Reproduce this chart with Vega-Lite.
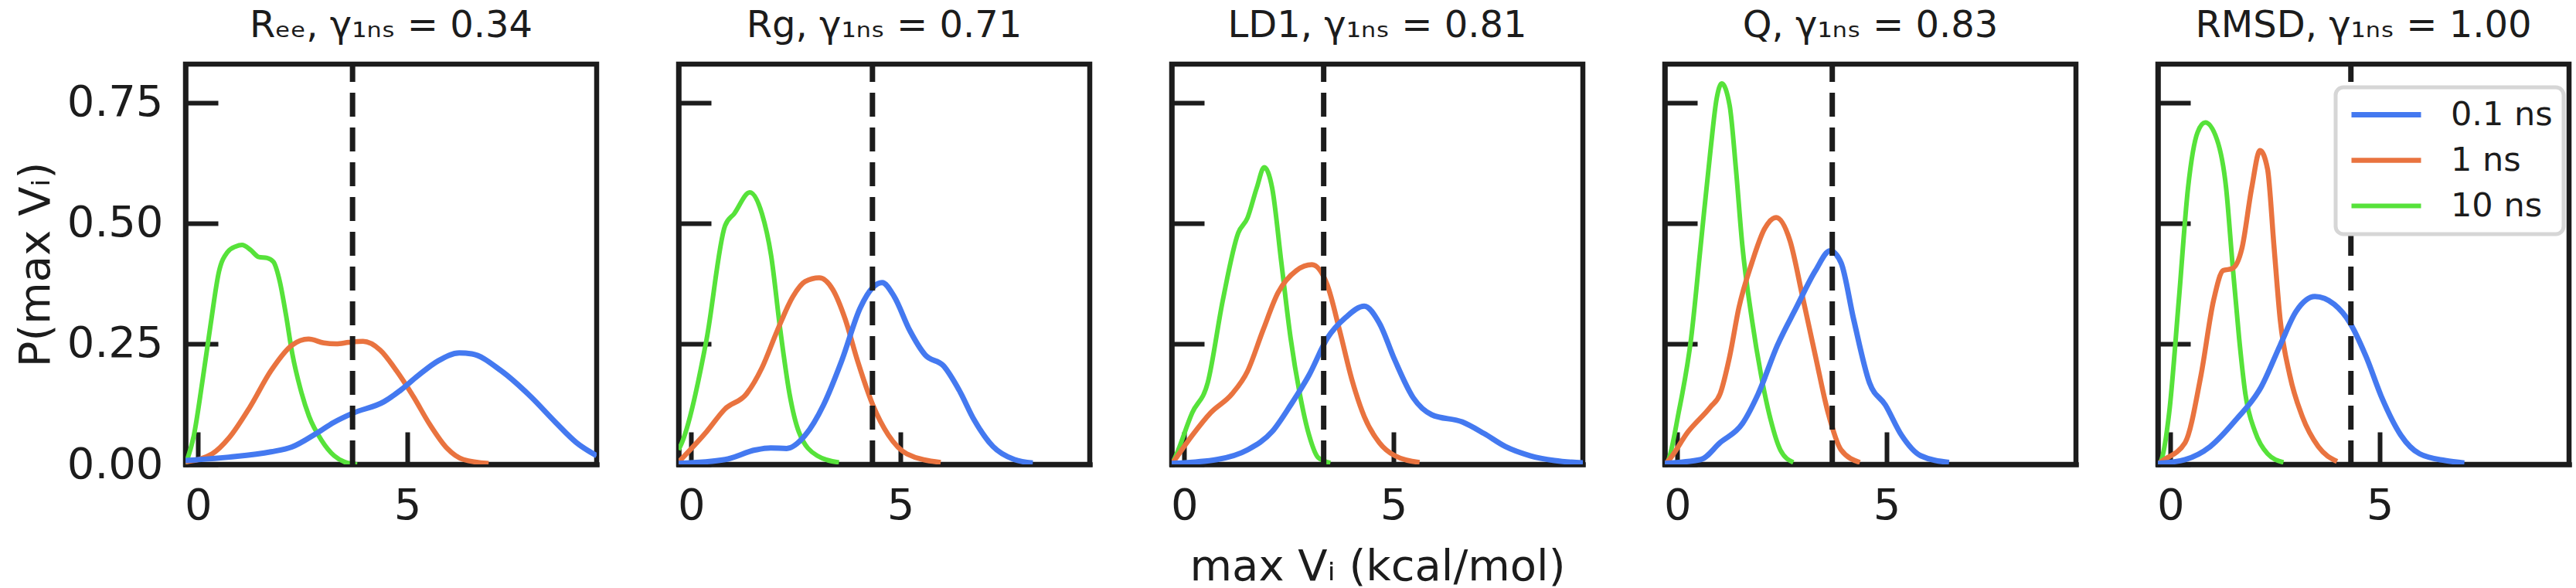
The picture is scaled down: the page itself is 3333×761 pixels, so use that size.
{
  "$schema": "https://vega.github.io/schema/vega-lite/v6.json",
  "background": "white",
  "padding": {"left": 15, "top": 6, "right": 4, "bottom": 4},
  "bounds": "flush",
  "spacing": 106,
  "datasets": {
    "curves": [
      {"panel":"Ree","series":"10 ns","x":-0.3,"y":0.0},{"panel":"Ree","series":"10 ns","x":-0.1,"y":0.06},{"panel":"Ree","series":"10 ns","x":0.1,"y":0.17},{"panel":"Ree","series":"10 ns","x":0.3,"y":0.29},{"panel":"Ree","series":"10 ns","x":0.5,"y":0.40},{"panel":"Ree","series":"10 ns","x":0.7,"y":0.44},{"panel":"Ree","series":"10 ns","x":0.9,"y":0.452},{"panel":"Ree","series":"10 ns","x":1.05,"y":0.455},{"panel":"Ree","series":"10 ns","x":1.25,"y":0.445},{"panel":"Ree","series":"10 ns","x":1.45,"y":0.43},{"panel":"Ree","series":"10 ns","x":1.65,"y":0.428},{"panel":"Ree","series":"10 ns","x":1.8,"y":0.42},{"panel":"Ree","series":"10 ns","x":1.95,"y":0.38},{"panel":"Ree","series":"10 ns","x":2.1,"y":0.31},{"panel":"Ree","series":"10 ns","x":2.25,"y":0.23},{"panel":"Ree","series":"10 ns","x":2.45,"y":0.155},{"panel":"Ree","series":"10 ns","x":2.65,"y":0.1},{"panel":"Ree","series":"10 ns","x":2.95,"y":0.05},{"panel":"Ree","series":"10 ns","x":3.25,"y":0.018},{"panel":"Ree","series":"10 ns","x":3.5,"y":0.005},{"panel":"Ree","series":"10 ns","x":3.8,"y":0.0},
      {"panel":"Ree","series":"1 ns","x":-0.3,"y":0.005},{"panel":"Ree","series":"1 ns","x":0.34,"y":0.022},{"panel":"Ree","series":"1 ns","x":0.74,"y":0.055},{"panel":"Ree","series":"1 ns","x":1.24,"y":0.119},{"panel":"Ree","series":"1 ns","x":1.74,"y":0.194},{"panel":"Ree","series":"1 ns","x":2.24,"y":0.247},{"panel":"Ree","series":"1 ns","x":2.64,"y":0.26},{"panel":"Ree","series":"1 ns","x":3.0,"y":0.252},{"panel":"Ree","series":"1 ns","x":3.3,"y":0.25},{"panel":"Ree","series":"1 ns","x":3.6,"y":0.253},{"panel":"Ree","series":"1 ns","x":3.94,"y":0.255},{"panel":"Ree","series":"1 ns","x":4.35,"y":0.237},{"panel":"Ree","series":"1 ns","x":4.74,"y":0.194},{"panel":"Ree","series":"1 ns","x":5.14,"y":0.141},{"panel":"Ree","series":"1 ns","x":5.54,"y":0.082},{"panel":"Ree","series":"1 ns","x":5.94,"y":0.034},{"panel":"Ree","series":"1 ns","x":6.34,"y":0.01},{"panel":"Ree","series":"1 ns","x":6.94,"y":0.002},
      {"panel":"Ree","series":"0.1 ns","x":-0.3,"y":0.008},{"panel":"Ree","series":"0.1 ns","x":0.74,"y":0.015},{"panel":"Ree","series":"0.1 ns","x":1.74,"y":0.026},{"panel":"Ree","series":"0.1 ns","x":2.24,"y":0.036},{"panel":"Ree","series":"0.1 ns","x":2.84,"y":0.065},{"panel":"Ree","series":"0.1 ns","x":3.24,"y":0.087},{"panel":"Ree","series":"0.1 ns","x":3.69,"y":0.106},{"panel":"Ree","series":"0.1 ns","x":4.44,"y":0.13},{"panel":"Ree","series":"0.1 ns","x":4.84,"y":0.154},{"panel":"Ree","series":"0.1 ns","x":5.24,"y":0.183},{"panel":"Ree","series":"0.1 ns","x":5.74,"y":0.215},{"panel":"Ree","series":"0.1 ns","x":6.24,"y":0.231},{"panel":"Ree","series":"0.1 ns","x":6.54,"y":0.229},{"panel":"Ree","series":"0.1 ns","x":7.24,"y":0.194},{"panel":"Ree","series":"0.1 ns","x":7.94,"y":0.141},{"panel":"Ree","series":"0.1 ns","x":8.54,"y":0.087},{"panel":"Ree","series":"0.1 ns","x":9.04,"y":0.045},{"panel":"Ree","series":"0.1 ns","x":9.52,"y":0.018},

      {"panel":"Rg","series":"10 ns","x":-0.3,"y":0.03},{"panel":"Rg","series":"10 ns","x":-0.22,"y":0.045},{"panel":"Rg","series":"10 ns","x":0.37,"y":0.26},{"panel":"Rg","series":"10 ns","x":0.81,"y":0.495},{"panel":"Rg","series":"10 ns","x":1.03,"y":0.52},{"panel":"Rg","series":"10 ns","x":1.4,"y":0.564},{"panel":"Rg","series":"10 ns","x":1.69,"y":0.52},{"panel":"Rg","series":"10 ns","x":1.91,"y":0.433},{"panel":"Rg","series":"10 ns","x":2.13,"y":0.278},{"panel":"Rg","series":"10 ns","x":2.35,"y":0.146},{"panel":"Rg","series":"10 ns","x":2.57,"y":0.068},{"panel":"Rg","series":"10 ns","x":3.01,"y":0.018},{"panel":"Rg","series":"10 ns","x":3.53,"y":0.004},
      {"panel":"Rg","series":"1 ns","x":-0.3,"y":0.005},{"panel":"Rg","series":"1 ns","x":0.37,"y":0.068},{"panel":"Rg","series":"1 ns","x":0.81,"y":0.115},{"panel":"Rg","series":"1 ns","x":1.32,"y":0.146},{"panel":"Rg","series":"1 ns","x":1.69,"y":0.2},{"panel":"Rg","series":"1 ns","x":2.06,"y":0.278},{"panel":"Rg","series":"1 ns","x":2.43,"y":0.348},{"panel":"Rg","series":"1 ns","x":2.72,"y":0.379},{"panel":"Rg","series":"1 ns","x":3.06,"y":0.387},{"panel":"Rg","series":"1 ns","x":3.38,"y":0.363},{"panel":"Rg","series":"1 ns","x":3.68,"y":0.301},{"panel":"Rg","series":"1 ns","x":3.97,"y":0.216},{"panel":"Rg","series":"1 ns","x":4.34,"y":0.123},{"panel":"Rg","series":"1 ns","x":4.71,"y":0.061},{"panel":"Rg","series":"1 ns","x":5.15,"y":0.022},{"panel":"Rg","series":"1 ns","x":5.96,"y":0.004},
      {"panel":"Rg","series":"0.1 ns","x":-0.3,"y":0.002},{"panel":"Rg","series":"0.1 ns","x":0.81,"y":0.01},{"panel":"Rg","series":"0.1 ns","x":1.54,"y":0.03},{"panel":"Rg","series":"0.1 ns","x":1.9,"y":0.034},{"panel":"Rg","series":"0.1 ns","x":2.28,"y":0.033},{"panel":"Rg","series":"0.1 ns","x":2.72,"y":0.06},{"panel":"Rg","series":"0.1 ns","x":3.16,"y":0.123},{"panel":"Rg","series":"0.1 ns","x":3.6,"y":0.216},{"panel":"Rg","series":"0.1 ns","x":4.04,"y":0.325},{"panel":"Rg","series":"0.1 ns","x":4.34,"y":0.367},{"panel":"Rg","series":"0.1 ns","x":4.56,"y":0.377},{"panel":"Rg","series":"0.1 ns","x":4.85,"y":0.348},{"panel":"Rg","series":"0.1 ns","x":5.22,"y":0.278},{"panel":"Rg","series":"0.1 ns","x":5.59,"y":0.227},{"panel":"Rg","series":"0.1 ns","x":6.03,"y":0.204},{"panel":"Rg","series":"0.1 ns","x":6.4,"y":0.154},{"panel":"Rg","series":"0.1 ns","x":6.76,"y":0.092},{"panel":"Rg","series":"0.1 ns","x":7.21,"y":0.037},{"panel":"Rg","series":"0.1 ns","x":7.72,"y":0.01},{"panel":"Rg","series":"0.1 ns","x":8.16,"y":0.003},

      {"panel":"LD1","series":"10 ns","x":-0.3,"y":0.0},{"panel":"LD1","series":"10 ns","x":-0.22,"y":0.014},{"panel":"LD1","series":"10 ns","x":0.19,"y":0.107},{"panel":"LD1","series":"10 ns","x":0.56,"y":0.169},{"panel":"LD1","series":"10 ns","x":0.92,"y":0.34},{"panel":"LD1","series":"10 ns","x":1.29,"y":0.48},{"panel":"LD1","series":"10 ns","x":1.51,"y":0.511},{"panel":"LD1","series":"10 ns","x":1.73,"y":0.573},{"panel":"LD1","series":"10 ns","x":1.91,"y":0.616},{"panel":"LD1","series":"10 ns","x":2.1,"y":0.573},{"panel":"LD1","series":"10 ns","x":2.32,"y":0.418},{"panel":"LD1","series":"10 ns","x":2.54,"y":0.262},{"panel":"LD1","series":"10 ns","x":2.76,"y":0.146},{"panel":"LD1","series":"10 ns","x":2.98,"y":0.061},{"panel":"LD1","series":"10 ns","x":3.2,"y":0.014},{"panel":"LD1","series":"10 ns","x":3.49,"y":0.003},
      {"panel":"LD1","series":"1 ns","x":-0.3,"y":0.0},{"panel":"LD1","series":"1 ns","x":-0.22,"y":0.01},{"panel":"LD1","series":"1 ns","x":0.19,"y":0.06},{"panel":"LD1","series":"1 ns","x":0.63,"y":0.107},{"panel":"LD1","series":"1 ns","x":1.14,"y":0.146},{"panel":"LD1","series":"1 ns","x":1.51,"y":0.193},{"panel":"LD1","series":"1 ns","x":1.88,"y":0.278},{"panel":"LD1","series":"1 ns","x":2.24,"y":0.356},{"panel":"LD1","series":"1 ns","x":2.68,"y":0.402},{"panel":"LD1","series":"1 ns","x":3.05,"y":0.414},{"panel":"LD1","series":"1 ns","x":3.42,"y":0.371},{"panel":"LD1","series":"1 ns","x":3.71,"y":0.278},{"panel":"LD1","series":"1 ns","x":4.0,"y":0.177},{"panel":"LD1","series":"1 ns","x":4.3,"y":0.099},{"panel":"LD1","series":"1 ns","x":4.66,"y":0.045},{"panel":"LD1","series":"1 ns","x":5.03,"y":0.018},{"panel":"LD1","series":"1 ns","x":5.62,"y":0.004},
      {"panel":"LD1","series":"0.1 ns","x":-0.3,"y":0.002},{"panel":"LD1","series":"0.1 ns","x":0.78,"y":0.01},{"panel":"LD1","series":"0.1 ns","x":1.51,"y":0.03},{"panel":"LD1","series":"0.1 ns","x":2.1,"y":0.068},{"panel":"LD1","series":"0.1 ns","x":2.54,"y":0.123},{"panel":"LD1","series":"0.1 ns","x":2.98,"y":0.185},{"panel":"LD1","series":"0.1 ns","x":3.42,"y":0.262},{"panel":"LD1","series":"0.1 ns","x":3.86,"y":0.305},{"panel":"LD1","series":"0.1 ns","x":4.3,"y":0.328},{"panel":"LD1","series":"0.1 ns","x":4.66,"y":0.293},{"panel":"LD1","series":"0.1 ns","x":5.03,"y":0.216},{"panel":"LD1","series":"0.1 ns","x":5.47,"y":0.138},{"panel":"LD1","series":"0.1 ns","x":5.91,"y":0.103},{"panel":"LD1","series":"0.1 ns","x":6.64,"y":0.088},{"panel":"LD1","series":"0.1 ns","x":7.16,"y":0.064},{"panel":"LD1","series":"0.1 ns","x":7.67,"y":0.037},{"panel":"LD1","series":"0.1 ns","x":8.26,"y":0.018},{"panel":"LD1","series":"0.1 ns","x":8.84,"y":0.008},{"panel":"LD1","series":"0.1 ns","x":9.52,"y":0.003},

      {"panel":"Q","series":"10 ns","x":-0.3,"y":0.0},{"panel":"Q","series":"10 ns","x":-0.23,"y":0.006},{"panel":"Q","series":"10 ns","x":0.03,"y":0.107},{"panel":"Q","series":"10 ns","x":0.33,"y":0.262},{"panel":"Q","series":"10 ns","x":0.56,"y":0.456},{"panel":"Q","series":"10 ns","x":0.79,"y":0.65},{"panel":"Q","series":"10 ns","x":0.94,"y":0.759},{"panel":"Q","series":"10 ns","x":1.06,"y":0.79},{"panel":"Q","series":"10 ns","x":1.25,"y":0.744},{"panel":"Q","series":"10 ns","x":1.4,"y":0.612},{"panel":"Q","series":"10 ns","x":1.55,"y":0.456},{"panel":"Q","series":"10 ns","x":1.78,"y":0.301},{"panel":"Q","series":"10 ns","x":2.0,"y":0.185},{"panel":"Q","series":"10 ns","x":2.23,"y":0.092},{"panel":"Q","series":"10 ns","x":2.46,"y":0.03},{"panel":"Q","series":"10 ns","x":2.77,"y":0.004},
      {"panel":"Q","series":"1 ns","x":-0.3,"y":0.0},{"panel":"Q","series":"1 ns","x":-0.23,"y":0.006},{"panel":"Q","series":"1 ns","x":0.26,"y":0.068},{"panel":"Q","series":"1 ns","x":0.79,"y":0.119},{"panel":"Q","series":"1 ns","x":1.02,"y":0.146},{"panel":"Q","series":"1 ns","x":1.25,"y":0.224},{"panel":"Q","series":"1 ns","x":1.47,"y":0.325},{"panel":"Q","series":"1 ns","x":1.78,"y":0.418},{"panel":"Q","series":"1 ns","x":2.08,"y":0.488},{"panel":"Q","series":"1 ns","x":2.36,"y":0.512},{"panel":"Q","series":"1 ns","x":2.69,"y":0.464},{"panel":"Q","series":"1 ns","x":2.99,"y":0.348},{"panel":"Q","series":"1 ns","x":3.3,"y":0.224},{"panel":"Q","series":"1 ns","x":3.6,"y":0.107},{"panel":"Q","series":"1 ns","x":3.91,"y":0.03},{"panel":"Q","series":"1 ns","x":4.36,"y":0.004},
      {"panel":"Q","series":"0.1 ns","x":-0.3,"y":0.002},{"panel":"Q","series":"0.1 ns","x":0.56,"y":0.01},{"panel":"Q","series":"0.1 ns","x":1.02,"y":0.045},{"panel":"Q","series":"0.1 ns","x":1.55,"y":0.084},{"panel":"Q","series":"0.1 ns","x":1.93,"y":0.146},{"panel":"Q","series":"0.1 ns","x":2.39,"y":0.247},{"panel":"Q","series":"0.1 ns","x":2.84,"y":0.325},{"panel":"Q","series":"0.1 ns","x":3.3,"y":0.402},{"panel":"Q","series":"0.1 ns","x":3.65,"y":0.443},{"panel":"Q","series":"0.1 ns","x":3.91,"y":0.418},{"panel":"Q","series":"0.1 ns","x":4.21,"y":0.301},{"panel":"Q","series":"0.1 ns","x":4.59,"y":0.169},{"panel":"Q","series":"0.1 ns","x":4.97,"y":0.123},{"panel":"Q","series":"0.1 ns","x":5.35,"y":0.061},{"panel":"Q","series":"0.1 ns","x":5.81,"y":0.018},{"panel":"Q","series":"0.1 ns","x":6.49,"y":0.004},

      {"panel":"RMSD","series":"10 ns","x":-0.3,"y":0.0},{"panel":"RMSD","series":"10 ns","x":-0.23,"y":0.006},{"panel":"RMSD","series":"10 ns","x":-0.03,"y":0.107},{"panel":"RMSD","series":"10 ns","x":0.2,"y":0.34},{"panel":"RMSD","series":"10 ns","x":0.42,"y":0.573},{"panel":"RMSD","series":"10 ns","x":0.65,"y":0.689},{"panel":"RMSD","series":"10 ns","x":0.83,"y":0.709},{"panel":"RMSD","series":"10 ns","x":1.11,"y":0.674},{"panel":"RMSD","series":"10 ns","x":1.33,"y":0.573},{"panel":"RMSD","series":"10 ns","x":1.48,"y":0.418},{"panel":"RMSD","series":"10 ns","x":1.64,"y":0.262},{"panel":"RMSD","series":"10 ns","x":1.79,"y":0.146},{"panel":"RMSD","series":"10 ns","x":2.02,"y":0.068},{"panel":"RMSD","series":"10 ns","x":2.32,"y":0.022},{"panel":"RMSD","series":"10 ns","x":2.7,"y":0.004},
      {"panel":"RMSD","series":"1 ns","x":-0.3,"y":0.0},{"panel":"RMSD","series":"1 ns","x":-0.23,"y":0.005},{"panel":"RMSD","series":"1 ns","x":0.35,"y":0.045},{"panel":"RMSD","series":"1 ns","x":0.73,"y":0.185},{"panel":"RMSD","series":"1 ns","x":1.03,"y":0.34},{"panel":"RMSD","series":"1 ns","x":1.26,"y":0.402},{"panel":"RMSD","series":"1 ns","x":1.48,"y":0.406},{"panel":"RMSD","series":"1 ns","x":1.71,"y":0.449},{"panel":"RMSD","series":"1 ns","x":1.94,"y":0.573},{"panel":"RMSD","series":"1 ns","x":2.14,"y":0.651},{"panel":"RMSD","series":"1 ns","x":2.32,"y":0.612},{"panel":"RMSD","series":"1 ns","x":2.47,"y":0.456},{"panel":"RMSD","series":"1 ns","x":2.62,"y":0.301},{"panel":"RMSD","series":"1 ns","x":2.85,"y":0.185},{"panel":"RMSD","series":"1 ns","x":3.15,"y":0.099},{"panel":"RMSD","series":"1 ns","x":3.53,"y":0.037},{"panel":"RMSD","series":"1 ns","x":3.98,"y":0.006},
      {"panel":"RMSD","series":"0.1 ns","x":-0.3,"y":0.002},{"panel":"RMSD","series":"0.1 ns","x":0.35,"y":0.01},{"panel":"RMSD","series":"0.1 ns","x":0.95,"y":0.037},{"panel":"RMSD","series":"0.1 ns","x":1.56,"y":0.092},{"panel":"RMSD","series":"0.1 ns","x":2.17,"y":0.161},{"panel":"RMSD","series":"0.1 ns","x":2.62,"y":0.247},{"panel":"RMSD","series":"0.1 ns","x":3.0,"y":0.317},{"panel":"RMSD","series":"0.1 ns","x":3.45,"y":0.348},{"panel":"RMSD","series":"0.1 ns","x":3.91,"y":0.332},{"panel":"RMSD","series":"0.1 ns","x":4.29,"y":0.293},{"panel":"RMSD","series":"0.1 ns","x":4.67,"y":0.224},{"panel":"RMSD","series":"0.1 ns","x":5.05,"y":0.138},{"panel":"RMSD","series":"0.1 ns","x":5.5,"y":0.061},{"panel":"RMSD","series":"0.1 ns","x":5.95,"y":0.022},{"panel":"RMSD","series":"0.1 ns","x":6.56,"y":0.008},{"panel":"RMSD","series":"0.1 ns","x":7.02,"y":0.003}
    ],
    "rules": [
      {"panel":"Ree","x":3.69},{"panel":"Rg","x":4.33},{"panel":"LD1","x":3.33},{"panel":"Q","x":3.7},{"panel":"RMSD","x":4.31}
    ]
  },
  "hconcat": [
    {
      "title": {"text": "Rₑₑ, γ₁ₙₛ = 0.34"},
      "width": 532, "height": 518,
      "layer": [
        {"data": {"name": "curves"}, "transform": [{"filter": "datum.panel === 'Ree'"}],
         "mark": {"type": "line", "interpolate": "monotone", "clip": true},
         "encoding": {
           "x": {"field": "x", "type": "quantitative", "scale": {"domain": [-0.3, 9.52], "nice": false, "zero": false}, "axis": {"values": [0, 5], "format": "d", "title": null}},
           "y": {"field": "y", "type": "quantitative", "scale": {"domain": [0, 0.83], "nice": false, "zero": false}, "axis": {"values": [0, 0.25, 0.5, 0.75], "format": ".2f", "title": "P(max Vᵢ)"}},
           "color": {"field": "series", "type": "nominal", "scale": {"domain": ["0.1 ns", "1 ns", "10 ns"], "range": ["#4479F0", "#E9733F", "#56E23A"]}, "legend": null},
           "strokeWidth": {"field": "series", "type": "nominal", "scale": {"domain": ["0.1 ns", "1 ns", "10 ns"], "range": [7, 6, 5.5]}, "legend": null}
         }},
        {"data": {"name": "rules"}, "transform": [{"filter": "datum.panel === 'Ree'"}],
         "mark": {"type": "rule", "strokeDash": [31, 14], "strokeWidth": 7, "color": "#1c1c1c"},
         "encoding": {"x": {"field": "x", "type": "quantitative"}, "y": {"datum": 0, "type": "quantitative"}, "y2": {"datum": 0.83}}}
      ]
    },
    {
      "title": {"text": "Rg, γ₁ₙₛ = 0.71"},
      "width": 532, "height": 518,
      "layer": [
        {"data": {"name": "curves"}, "transform": [{"filter": "datum.panel === 'Rg'"}],
         "mark": {"type": "line", "interpolate": "monotone", "clip": true},
         "encoding": {
           "x": {"field": "x", "type": "quantitative", "scale": {"domain": [-0.3, 9.52], "nice": false, "zero": false}, "axis": {"values": [0, 5], "format": "d", "title": null}},
           "y": {"field": "y", "type": "quantitative", "scale": {"domain": [0, 0.83], "nice": false, "zero": false}, "axis": {"values": [0, 0.25, 0.5, 0.75], "labels": false, "title": null}},
           "color": {"field": "series", "type": "nominal", "scale": {"domain": ["0.1 ns", "1 ns", "10 ns"], "range": ["#4479F0", "#E9733F", "#56E23A"]}, "legend": null},
           "strokeWidth": {"field": "series", "type": "nominal", "scale": {"domain": ["0.1 ns", "1 ns", "10 ns"], "range": [7, 6, 5.5]}, "legend": null}
         }},
        {"data": {"name": "rules"}, "transform": [{"filter": "datum.panel === 'Rg'"}],
         "mark": {"type": "rule", "strokeDash": [31, 14], "strokeWidth": 7, "color": "#1c1c1c"},
         "encoding": {"x": {"field": "x", "type": "quantitative"}, "y": {"datum": 0, "type": "quantitative"}, "y2": {"datum": 0.83}}}
      ]
    },
    {
      "title": {"text": "LD1, γ₁ₙₛ = 0.81"},
      "width": 532, "height": 518,
      "layer": [
        {"data": {"name": "curves"}, "transform": [{"filter": "datum.panel === 'LD1'"}],
         "mark": {"type": "line", "interpolate": "monotone", "clip": true},
         "encoding": {
           "x": {"field": "x", "type": "quantitative", "scale": {"domain": [-0.3, 9.52], "nice": false, "zero": false}, "axis": {"values": [0, 5], "format": "d", "title": "max Vᵢ (kcal/mol)"}},
           "y": {"field": "y", "type": "quantitative", "scale": {"domain": [0, 0.83], "nice": false, "zero": false}, "axis": {"values": [0, 0.25, 0.5, 0.75], "labels": false, "title": null}},
           "color": {"field": "series", "type": "nominal", "scale": {"domain": ["0.1 ns", "1 ns", "10 ns"], "range": ["#4479F0", "#E9733F", "#56E23A"]}, "legend": null},
           "strokeWidth": {"field": "series", "type": "nominal", "scale": {"domain": ["0.1 ns", "1 ns", "10 ns"], "range": [7, 6, 5.5]}, "legend": null}
         }},
        {"data": {"name": "rules"}, "transform": [{"filter": "datum.panel === 'LD1'"}],
         "mark": {"type": "rule", "strokeDash": [31, 14], "strokeWidth": 7, "color": "#1c1c1c"},
         "encoding": {"x": {"field": "x", "type": "quantitative"}, "y": {"datum": 0, "type": "quantitative"}, "y2": {"datum": 0.83}}}
      ]
    },
    {
      "title": {"text": "Q, γ₁ₙₛ = 0.83"},
      "width": 532, "height": 518,
      "layer": [
        {"data": {"name": "curves"}, "transform": [{"filter": "datum.panel === 'Q'"}],
         "mark": {"type": "line", "interpolate": "monotone", "clip": true},
         "encoding": {
           "x": {"field": "x", "type": "quantitative", "scale": {"domain": [-0.3, 9.52], "nice": false, "zero": false}, "axis": {"values": [0, 5], "format": "d", "title": null}},
           "y": {"field": "y", "type": "quantitative", "scale": {"domain": [0, 0.83], "nice": false, "zero": false}, "axis": {"values": [0, 0.25, 0.5, 0.75], "labels": false, "title": null}},
           "color": {"field": "series", "type": "nominal", "scale": {"domain": ["0.1 ns", "1 ns", "10 ns"], "range": ["#4479F0", "#E9733F", "#56E23A"]}, "legend": null},
           "strokeWidth": {"field": "series", "type": "nominal", "scale": {"domain": ["0.1 ns", "1 ns", "10 ns"], "range": [7, 6, 5.5]}, "legend": null}
         }},
        {"data": {"name": "rules"}, "transform": [{"filter": "datum.panel === 'Q'"}],
         "mark": {"type": "rule", "strokeDash": [31, 14], "strokeWidth": 7, "color": "#1c1c1c"},
         "encoding": {"x": {"field": "x", "type": "quantitative"}, "y": {"datum": 0, "type": "quantitative"}, "y2": {"datum": 0.83}}}
      ]
    },
    {
      "title": {"text": "RMSD, γ₁ₙₛ = 1.00"},
      "width": 532, "height": 518,
      "layer": [
        {"data": {"name": "curves"}, "transform": [{"filter": "datum.panel === 'RMSD'"}],
         "mark": {"type": "line", "interpolate": "monotone", "clip": true},
         "encoding": {
           "x": {"field": "x", "type": "quantitative", "scale": {"domain": [-0.3, 9.52], "nice": false, "zero": false}, "axis": {"values": [0, 5], "format": "d", "title": null}},
           "y": {"field": "y", "type": "quantitative", "scale": {"domain": [0, 0.83], "nice": false, "zero": false}, "axis": {"values": [0, 0.25, 0.5, 0.75], "labels": false, "title": null}},
           "color": {"field": "series", "type": "nominal", "scale": {"domain": ["0.1 ns", "1 ns", "10 ns"], "range": ["#4479F0", "#E9733F", "#56E23A"]},
             "legend": {"orient": "none", "legendX": 230, "legendY": 30, "direction": "vertical", "title": null, "symbolType": "M-3,0H3", "symbolSize": 900, "symbolStrokeWidth": 7, "symbolOffset": 30, "labelOffset": 62, "rowPadding": 15, "padding": 14, "strokeColor": "#d6d6d6", "cornerRadius": 10, "fillColor": "white", "labelFontSize": 43, "labelFont": "DejaVu Sans", "labelColor": "#1c1c1c"}},
           "strokeWidth": {"field": "series", "type": "nominal", "scale": {"domain": ["0.1 ns", "1 ns", "10 ns"], "range": [7, 6, 5.5]}, "legend": null}
         }},
        {"data": {"name": "rules"}, "transform": [{"filter": "datum.panel === 'RMSD'"}],
         "mark": {"type": "rule", "strokeDash": [31, 14], "strokeWidth": 7, "color": "#1c1c1c"},
         "encoding": {"x": {"field": "x", "type": "quantitative"}, "y": {"datum": 0, "type": "quantitative"}, "y2": {"datum": 0.83}}}
      ]
    }
  ],
  "resolve": {"scale": {"color": "independent", "strokeWidth": "independent", "x": "independent", "y": "independent"}, "legend": {"color": "independent"}},
  "config": {
    "font": "DejaVu Sans",
    "view": {"stroke": "#1c1c1c", "strokeWidth": 6.5},
    "axis": {"domain": true, "domainColor": "#1c1c1c", "domainWidth": 6.5, "domainCap": "square", "ticks": true, "tickColor": "#1c1c1c", "tickWidth": 6, "tickSize": -42, "labelFont": "DejaVu Sans", "labelFontSize": 56, "labelColor": "#1c1c1c", "labelFlush": false, "labelOverlap": false, "titleFont": "DejaVu Sans", "titleFontSize": 56, "titleFontWeight": "normal", "titleColor": "#1c1c1c", "grid": false, "zindex": 1},
    "axisX": {"labelPadding": 68, "titlePadding": 24},
    "axisY": {"labelPadding": 71, "titlePadding": 11},
    "legend": {"strokeWidth": 5},
    "title": {"font": "DejaVu Sans", "fontSize": 48, "fontWeight": "normal", "color": "#1c1c1c", "anchor": "middle", "baseline": "alphabetic", "offset": 22}
  }
}
